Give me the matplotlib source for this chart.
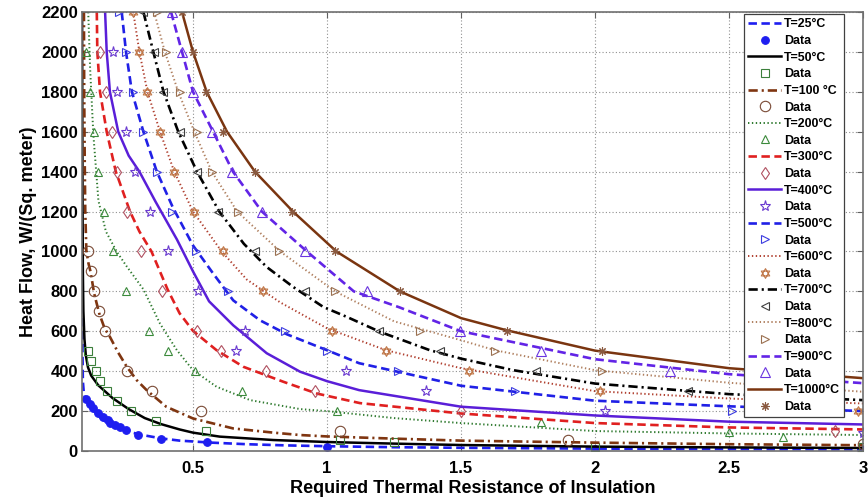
import matplotlib
matplotlib.use("Agg")
import matplotlib.pyplot as plt
from matplotlib.path import Path

plt.rcParams['font.family'] = ['Liberation Sans', 'DejaVu Sans']
plt.rcParams['font.weight'] = 'bold'

# model curves: thermal resistance R and heat flow q for each hot-side temperature
r25 = [0.0865, 0.087, 0.0875, 0.089, 0.092, 0.096, 0.102, 0.115, 0.133, 0.16, 0.195, 0.257, 0.32, 0.382, 0.45, 0.568, 0.7, 0.85, 1.0, 1.25, 1.5, 2.0, 2.5, 3.0]
q25 = [1120, 800, 500, 350, 300, 272, 255, 225, 197, 160, 130, 97, 78, 63, 52, 42, 34, 28, 24, 19, 16, 12, 10, 8]
r50 = [0.0862, 0.087, 0.088, 0.089, 0.091, 0.095, 0.1, 0.108, 0.12, 0.146, 0.175, 0.2, 0.26, 0.32, 0.38, 0.45, 0.5, 0.6, 0.8, 1.0, 1.25, 1.5, 2.0, 2.5, 3.0]
q50 = [2200, 1700, 1200, 900, 700, 560, 480, 420, 378, 330, 295, 265, 210, 165, 135, 108, 92, 72, 55, 45, 37, 30, 22, 18, 15]
r100 = [0.093, 0.094, 0.096, 0.098, 0.102, 0.11, 0.118, 0.131, 0.15, 0.17, 0.19, 0.22, 0.253, 0.29, 0.327, 0.40, 0.5, 0.65, 0.8, 0.9, 1.0, 1.25, 1.5, 2.0, 2.5, 3.0]
q100 = [2200, 1800, 1450, 1200, 1005, 940, 897, 790, 690, 615, 572, 495, 422, 355, 305, 222, 163, 113, 92, 80, 73, 62, 52, 42, 34, 29]
r200 = [0.109, 0.116, 0.128, 0.147, 0.175, 0.215, 0.25, 0.315, 0.377, 0.44, 0.5, 0.588, 0.713, 0.9, 1.0, 1.25, 1.5, 2.0, 2.5, 3.0]
q200 = [2200, 1920, 1590, 1255, 1100, 1000, 930, 810, 638, 505, 405, 322, 255, 210, 200, 165, 140, 100, 88, 80]
r300 = [0.141, 0.143, 0.153, 0.178, 0.212, 0.265, 0.30, 0.345, 0.405, 0.45, 0.5, 0.588, 0.688, 0.837, 0.962, 1.123, 1.5, 2.0, 2.5, 3.0]
q300 = [2200, 2000, 1800, 1600, 1400, 1200, 1100, 1000, 810, 690, 602, 505, 422, 347, 288, 240, 188, 140, 118, 108]
r400 = [0.172, 0.178, 0.19, 0.221, 0.26, 0.30, 0.36, 0.44, 0.5, 0.56, 0.65, 0.775, 0.9, 1.0, 1.12, 1.5, 2.0, 2.5, 3.0]
q400 = [2200, 2000, 1800, 1600, 1480, 1400, 1250, 1060, 900, 750, 630, 490, 397, 350, 305, 222, 178, 147, 133]
r500 = [0.234, 0.25, 0.272, 0.315, 0.365, 0.425, 0.5, 0.576, 0.65, 0.75, 0.85, 1.0, 1.12, 1.5, 2.0, 2.5, 3.0]
q500 = [2200, 2000, 1800, 1600, 1400, 1220, 1030, 888, 755, 655, 585, 505, 440, 327, 252, 224, 200]
r600 = [0.277, 0.30, 0.33, 0.377, 0.43, 0.50, 0.607, 0.70, 0.825, 1.0, 1.22, 1.5, 2.0, 2.5, 3.0]
q600 = [2200, 2000, 1800, 1600, 1400, 1200, 1000, 860, 745, 615, 505, 415, 300, 263, 238]
r700 = [0.315, 0.352, 0.39, 0.445, 0.515, 0.598, 0.69, 0.775, 0.874, 0.986, 1.074, 1.198, 1.384, 1.5, 1.695, 2.0, 2.5, 3.0]
q700 = [2200, 2000, 1800, 1600, 1400, 1200, 1038, 922, 822, 722, 672, 597, 505, 463, 405, 338, 285, 255]
r800 = [0.355, 0.395, 0.445, 0.505, 0.57, 0.665, 0.825, 1.03, 1.25, 1.5, 1.627, 2.0, 2.5, 3.0]
q800 = [2200, 2000, 1800, 1600, 1400, 1200, 1000, 800, 650, 555, 505, 405, 342, 297]
r900 = [0.418, 0.459, 0.5, 0.575, 0.649, 0.757, 0.925, 1.1, 1.27, 1.5, 2.0, 2.5, 3.0]
q900 = [2200, 2000, 1800, 1600, 1400, 1200, 1000, 800, 720, 600, 460, 385, 340]
r1000 = [0.459, 0.5, 0.551, 0.627, 0.731, 0.873, 1.035, 1.272, 1.5, 1.67, 2.0, 2.5, 3.0]
q1000 = [2200, 2000, 1800, 1600, 1400, 1200, 1000, 800, 666, 605, 503, 415, 365]

# measured points
d25_r = [0.102, 0.114, 0.127, 0.146, 0.164, 0.183, 0.189, 0.208, 0.226, 0.251, 0.295, 0.382, 0.552, 1.0, 2.0, 3.0]
d25_q = [263, 238, 213, 188, 172, 155, 138, 130, 122, 105, 80, 62, 44, 20, 11, 7]
d50_r = [0.108, 0.12, 0.139, 0.152, 0.18, 0.216, 0.27, 0.363, 0.55, 1.05, 1.25, 2.0, 3.0]
d50_q = [500, 450, 400, 350, 300, 250, 200, 150, 100, 55, 47, 18, 20]
d100_r = [0.107, 0.118, 0.13, 0.149, 0.172, 0.255, 0.346, 0.53, 1.05, 1.9, 3.0]
d100_q = [1000, 900, 800, 700, 600, 400, 300, 200, 100, 55, 35]
d200_r = [0.101, 0.116, 0.132, 0.145, 0.168, 0.202, 0.25, 0.337, 0.408, 0.507, 0.682, 1.038, 1.8, 2.5, 2.7]
d200_q = [2000, 1800, 1600, 1400, 1200, 1000, 800, 600, 500, 400, 300, 200, 147, 97, 72]
d300_r = [0.153, 0.175, 0.197, 0.218, 0.253, 0.307, 0.386, 0.514, 0.604, 0.771, 0.957, 1.5, 2.896]
d300_q = [2000, 1800, 1600, 1400, 1200, 1000, 800, 600, 500, 400, 300, 200, 100]
d400_r = [0.203, 0.218, 0.25, 0.284, 0.34, 0.408, 0.52, 0.694, 0.66, 1.07, 1.37, 2.037, 3.0]
d400_q = [2000, 1800, 1600, 1400, 1200, 1000, 800, 600, 500, 400, 300, 200, 90]
d500_r = [0.224, 0.25, 0.275, 0.315, 0.365, 0.423, 0.51, 0.632, 0.843, 1.0, 1.266, 1.70, 2.51]
d500_q = [2200, 2000, 1800, 1600, 1400, 1200, 1000, 800, 600, 500, 400, 300, 200]
d600_r = [0.275, 0.30, 0.33, 0.377, 0.43, 0.502, 0.611, 0.762, 1.017, 1.22, 1.531, 2.02, 2.98]
d600_q = [2200, 2000, 1800, 1600, 1400, 1200, 1000, 800, 600, 500, 400, 300, 200]
d700_r = [0.315, 0.356, 0.389, 0.451, 0.514, 0.594, 0.731, 0.918, 1.194, 1.422, 1.778, 2.348]
d700_q = [2200, 2000, 1800, 1600, 1400, 1200, 1000, 800, 600, 500, 400, 300]
d800_r = [0.365, 0.398, 0.451, 0.514, 0.57, 0.669, 0.821, 1.03, 1.347, 1.627, 2.025]
d800_q = [2200, 2000, 1800, 1600, 1400, 1200, 1000, 800, 600, 500, 400]
d900_r = [0.42, 0.458, 0.5, 0.57, 0.644, 0.756, 0.918, 1.15, 1.496, 1.8, 2.28]
d900_q = [2200, 2000, 1800, 1600, 1400, 1200, 1000, 800, 600, 500, 400]
d1000_r = [0.458, 0.5, 0.55, 0.613, 0.731, 0.868, 1.03, 1.272, 1.67, 2.027]
d1000_q = [2200, 2000, 1800, 1600, 1400, 1200, 1000, 800, 600, 500]

x_ticks = [0.5, 1, 1.5, 2, 2.5, 3]
x_tick_labels = ['0.5', '1', '1.5', '2', '2.5', '3']
y_ticks = list(range(0, 2201, 200))

# six-pointed star built from two overlapping triangles
hexagram = Path(
  [(0, 1), (-0.866, -0.5), (0.866, -0.5), (0, 1),
   (0, -1), (-0.866, 0.5), (0.866, 0.5), (0, -1)],
  [Path.MOVETO, Path.LINETO, Path.LINETO, Path.CLOSEPOLY,
   Path.MOVETO, Path.LINETO, Path.LINETO, Path.CLOSEPOLY])

DASH = (3.2, 1.7)
DOT = (0.7, 1.3)
DASHDOT = (3.5, 1.5, 0.8, 1.5)

designs = [
  ('T=25°C', r25, q25, {'color': '#1e1ef0', 'dashes': DASH, 'lw': 1.9},
   d25_r, d25_q, {'marker': 'o', 'color': '#1e1ef0', 'mfc': '#1e1ef0', 'ms': 5.5}),
  ('T=50°C', r50, q50, {'color': 'black', 'lw': 1.8},
   d50_r, d50_q, {'marker': 's', 'color': '#3b7f3b', 'mfc': 'none', 'ms': 6}),
  ('T=100 °C', r100, q100, {'color': '#7f3510', 'dashes': DASHDOT, 'lw': 1.9},
   d100_r, d100_q, {'marker': 'o', 'color': '#7a4a35', 'mfc': 'none', 'ms': 7.5}),
  ('T=200°C', r200, q200, {'color': '#2f7a2f', 'dashes': DOT, 'lw': 1.4},
   d200_r, d200_q, {'marker': '^', 'color': '#3b8a3b', 'mfc': 'none', 'ms': 6}),
  ('T=300°C', r300, q300, {'color': '#e02020', 'dashes': DASH, 'lw': 1.9},
   d300_r, d300_q, {'marker': 'd', 'color': '#b05060', 'mfc': 'none', 'ms': 6}),
  ('T=400°C', r400, q400, {'color': '#5a1ed8', 'lw': 1.8},
   d400_r, d400_q, {'marker': '*', 'color': '#6a3ad0', 'mfc': 'none', 'ms': 8}),
  ('T=500°C', r500, q500, {'color': '#2020e6', 'dashes': DASH, 'lw': 1.9},
   d500_r, d500_q, {'marker': '>', 'color': '#3c3ce0', 'mfc': 'none', 'ms': 6}),
  ('T=600°C', r600, q600, {'color': '#b04030', 'dashes': DOT, 'lw': 1.4},
   d600_r, d600_q, {'marker': hexagram, 'color': '#c0784a', 'mfc': 'none', 'ms': 7}),
  ('T=700°C', r700, q700, {'color': 'black', 'dashes': DASHDOT, 'lw': 1.9},
   d700_r, d700_q, {'marker': '<', 'color': '#404040', 'mfc': 'none', 'ms': 6}),
  ('T=800°C', r800, q800, {'color': '#b08060', 'dashes': DOT, 'lw': 1.4},
   d800_r, d800_q, {'marker': '>', 'color': '#9a7050', 'mfc': 'none', 'ms': 6}),
  ('T=900°C', r900, q900, {'color': '#6224e6', 'dashes': DASH, 'lw': 1.9},
   d900_r, d900_q, {'marker': '^', 'color': '#6a34e0', 'mfc': 'none', 'ms': 6.5}),
  ('T=1000°C', r1000, q1000, {'color': '#7a3510', 'lw': 1.8},
   d1000_r, d1000_q, {'marker': (8, 2, 0), 'color': '#8a5a40', 'mfc': 'none', 'ms': 6}),
]

fig = plt.figure(figsize=(8.68, 5.03), dpi=100)
ax = fig.add_axes([82 / 868, 1 - 451 / 503, (863 - 82) / 868, (451 - 12) / 503])

for label, r, q, line_style, dr, dq, marker_style in designs:
  ax.plot(r, q, label=label, **line_style)
  ax.plot(dr, dq, linestyle='none', mew=0.8, label='Data', **marker_style)

ax.set_xlim(0.0858, 3.0)
ax.set_ylim(0, 2200)
ax.set_xticks(x_ticks)
ax.set_xticklabels(x_tick_labels)
ax.set_yticks(y_ticks)
ax.tick_params(direction='in', length=4, width=0.8, color='#606060',
               top=True, right=True, labelsize=12)
ax.tick_params(axis='x', pad=7)
ax.tick_params(axis='y', pad=3)
for lbl in ax.get_xticklabels() + ax.get_yticklabels():
  lbl.set_fontweight('bold')
for spine in ax.spines.values():
  spine.set_color('#707070')
  spine.set_linewidth(1.2)
ax.grid(True, linestyle=(0, (1, 2)), color='#909090', linewidth=0.8)
ax.set_axisbelow(True)

ax.set_xlabel('Required Thermal Resistance of Insulation', fontsize=13, fontweight='bold', labelpad=3)
ax.set_ylabel('Heat Flow, W/(Sq. meter)', fontsize=13, fontweight='bold', labelpad=3)

legend = ax.legend(loc='upper right', bbox_to_anchor=((844 - 82) / 781, (451 - 14) / 439),
                   borderaxespad=0, handlelength=2.6, handletextpad=0.25,
                   labelspacing=0.375, borderpad=0.35, fancybox=False, framealpha=1,
                   edgecolor='#404040', prop={'weight': 'bold', 'size': 8.9})
legend.get_frame().set_linewidth(0.9)

fig.savefig('out.png', dpi=100)
